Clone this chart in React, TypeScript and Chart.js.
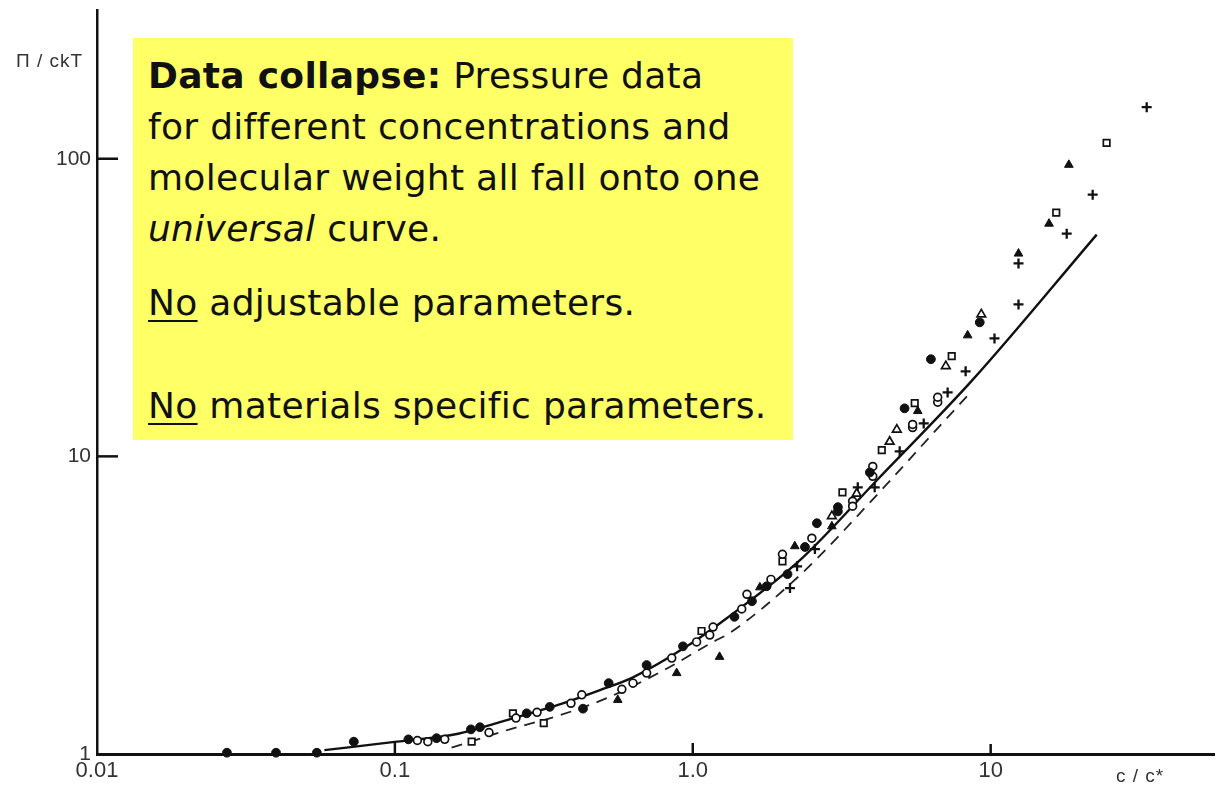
import React, { useEffect, useRef } from "react";
import { Chart, registerables } from "chart.js";
Chart.register(...registerables);

// ---- axis ticks ----
const xTickValues = [0.01, 0.1, 1, 10];
const xTickLabels = ["0.01", "0.1", "1.0", "10"];
const yTickValues = [1, 10, 100];
const yTickLabels = ["1", "10", "100"];

// ---- data series: [c/c*, Π/ckT] ----
const filledCircles: [number, number][] = [
  [0.0273, 1.01], [0.0399, 1.01], [0.0547, 1.01], [0.0728, 1.1], [0.111, 1.12],
  [0.138, 1.13], [0.18, 1.21], [0.193, 1.23], [0.277, 1.37], [0.331, 1.44],
  [0.428, 1.42], [0.522, 1.73], [0.7, 1.99], [0.927, 2.3], [1.38, 2.89],
  [1.58, 3.26], [1.77, 3.66], [2.08, 4.02], [2.38, 4.96], [2.61, 5.96],
  [3.07, 6.75], [3.07, 6.53], [3.93, 8.83], [5.14, 14.5], [6.3, 21.2], [9.19, 28.2],
];
const openCircles: [number, number][] = [
  [0.119, 1.11], [0.129, 1.1], [0.147, 1.12], [0.207, 1.18], [0.255, 1.32],
  [0.3, 1.38], [0.39, 1.48], [0.424, 1.58], [0.578, 1.65], [0.63, 1.73],
  [0.7, 1.87], [0.85, 2.1], [1.03, 2.38], [1.14, 2.51], [1.17, 2.67],
  [1.46, 3.07], [1.52, 3.44], [1.83, 3.86], [2.0, 4.69], [2.51, 5.31],
  [3.44, 7.07], [3.44, 6.8], [4.02, 9.25], [4.02, 8.57], [5.47, 12.5],
  [5.47, 12.8], [6.64, 15.2], [6.64, 15.8],
];
const openSquares: [number, number][] = [
  [0.181, 1.1], [0.249, 1.37], [0.316, 1.27], [1.07, 2.59], [2.0, 4.44],
  [3.18, 7.57], [4.31, 10.5], [5.56, 15.1], [7.4, 21.7], [16.6, 65.9], [24.5, 113],
];
const openTriangles: [number, number][] = [
  [2.93, 6.3], [3.55, 7.5], [4.58, 11.2], [4.84, 12.3], [7.07, 20.1], [9.3, 30],
];
const filledTriangles: [number, number][] = [
  [0.56, 1.52], [0.883, 1.87], [1.23, 2.12], [1.68, 3.63], [2.2, 4.99],
  [2.93, 5.82], [5.69, 14.2], [8.37, 25.5], [12.4, 48], [15.7, 60.5], [18.3, 95.4],
];
const crosses: [number, number][] = [
  [2.12, 3.61], [2.24, 4.27], [2.57, 4.88], [3.58, 7.87], [4.08, 7.87],
  [4.95, 10.4], [5.96, 12.9], [7.17, 16.4], [8.24, 19.3], [10.3, 24.9],
  [12.4, 32.4], [12.4, 44.5], [18.0, 56], [22.0, 75.7], [33.4, 149],
];
const solidCurve: [number, number][] = [
  [0.058, 1.03], [0.1015, 1.1], [0.163, 1.17], [0.225, 1.28], [0.366, 1.48],
  [0.488, 1.64], [0.63, 1.81], [0.955, 2.3], [1.3, 2.86], [2.29, 4.48],
  [4.18, 8.38], [8.71, 18.1], [22.7, 55.6],
];
const dashedCurve: [number, number][] = [
  [0.155, 1.05], [0.243, 1.21], [0.358, 1.35], [0.514, 1.54], [0.775, 1.88],
  [1.17, 2.38], [1.33, 2.55], [2.29, 3.99], [4.14, 7.4], [6.38, 11.9], [8.6, 16.5],
];

const toXY = (arr: [number, number][]) => arr.map(([x, y]) => ({ x, y }));

const inwardTicks = {
  id: "inwardTicks",
  afterDraw(chart: any) {
    const { ctx, scales } = chart;
    const xs = scales.x;
    const ys = scales.y;
    ctx.save();
    ctx.strokeStyle = "#111";
    ctx.lineWidth = 2.5;
    [10, 100].forEach((v) => {
      const py = ys.getPixelForValue(v);
      ctx.beginPath();
      ctx.moveTo(xs.left, py);
      ctx.lineTo(xs.left + 21, py);
      ctx.stroke();
    });
    const xLen: Record<string, number> = { "0.1": 12, "1": 11, "10": 10 };
    [0.1, 1, 10].forEach((v) => {
      const px = xs.getPixelForValue(v);
      ctx.beginPath();
      ctx.moveTo(px, ys.bottom);
      ctx.lineTo(px, ys.bottom - xLen[String(v)]);
      ctx.stroke();
    });
    ctx.restore();
  },
};

export default function App() {
  const canvasRef = useRef<HTMLCanvasElement | null>(null);

  useEffect(() => {
    if (!canvasRef.current) return;
    const markerBase = {
      showLine: false,
      borderColor: "#111",
      clip: false as any,
    };
    const chart = new Chart(canvasRef.current, {
      type: "scatter",
      data: {
        datasets: [
          { ...markerBase, label: "filled circles", data: toXY(filledCircles), pointStyle: "circle", pointRadius: 4.4, backgroundColor: "#111", borderWidth: 1 },
          { ...markerBase, label: "open circles", data: toXY(openCircles), pointStyle: "circle", pointRadius: 3.9, backgroundColor: "#fff", borderWidth: 1.7 },
          { ...markerBase, label: "open squares", data: toXY(openSquares), pointStyle: "rect", pointRadius: 4.6, backgroundColor: "#fff", borderWidth: 1.7 },
          { ...markerBase, label: "open triangles", data: toXY(openTriangles), pointStyle: "triangle", pointRadius: 5, backgroundColor: "#fff", borderWidth: 1.7 },
          { ...markerBase, label: "filled triangles", data: toXY(filledTriangles), pointStyle: "triangle", pointRadius: 5, backgroundColor: "#111", borderWidth: 1 },
          { ...markerBase, label: "crosses", data: toXY(crosses), pointStyle: "cross", pointRadius: 5, backgroundColor: "#111", borderWidth: 2.3 },
          { label: "solid", data: toXY(solidCurve), showLine: true, pointRadius: 0, borderColor: "#111", borderWidth: 2.4, cubicInterpolationMode: "monotone" as any },
          { label: "dashed", data: toXY(dashedCurve), showLine: true, pointRadius: 0, borderColor: "#222", borderWidth: 1.8, borderDash: [11, 8], cubicInterpolationMode: "monotone" as any },
        ],
      },
      options: {
        animation: false,
        responsive: true,
        maintainAspectRatio: false,
        layout: { padding: { left: 0, right: 7, top: 10, bottom: 0 } },
        plugins: { legend: { display: false }, tooltip: { enabled: false } },
        scales: {
          x: {
            type: "logarithmic",
            min: 0.01,
            max: 56.5,
            afterFit: (s: any) => { s.height = 31; s.paddingLeft = 0; s.paddingRight = 0; },
            afterBuildTicks: (s: any) => { s.ticks = xTickValues.map((v) => ({ value: v })); },
            ticks: {
              autoSkip: false,
              maxRotation: 0,
              padding: 4,
              color: "#333",
              font: { family: "Liberation Sans, Arial, sans-serif", size: 22 },
              callback: (v: any) => { const i = xTickValues.indexOf(Number(v)); return i >= 0 ? xTickLabels[i] : ""; },
            },
            grid: { display: false, drawTicks: false },
            border: { display: true, color: "#111", width: 3 },
          },
          y: {
            type: "logarithmic",
            min: 1,
            max: 316,
            afterFit: (s: any) => { s.width = 97; s.paddingTop = 0; s.paddingBottom = 0; },
            afterBuildTicks: (s: any) => { s.ticks = yTickValues.map((v) => ({ value: v })); },
            ticks: {
              autoSkip: false,
              padding: 6,
              color: "#333",
              font: { family: "Liberation Sans, Arial, sans-serif", size: 21 },
              callback: (v: any) => { const i = yTickValues.indexOf(Number(v)); return i >= 0 ? yTickLabels[i] : ""; },
            },
            grid: { display: false, drawTicks: false },
            border: { display: true, color: "#111", width: 2.5 },
          },
        },
      },
      plugins: [inwardTicks],
    });
    return () => chart.destroy();
  }, []);

  const boxFont = "'DejaVu Sans', Verdana, Tahoma, sans-serif";
  const line = (top: number, content: React.ReactNode) => (
    <div style={{ position: "absolute", left: 15, top, whiteSpace: "nowrap", lineHeight: "51px", height: 51 }}>{content}</div>
  );
  const u = (t: string) => (
    <span style={{ textDecoration: "underline", textDecorationThickness: "2px", textUnderlineOffset: "5px" }}>{t}</span>
  );

  return (
    <div style={{ position: "absolute", left: 0, top: 0, width: 1222, height: 785, background: "#fff" }}>
      <canvas ref={canvasRef} />
      <div style={{ position: "absolute", left: 16, top: 50, fontFamily: "Liberation Sans, Arial, sans-serif", fontSize: 19, color: "#333", letterSpacing: "1px" }}>Π / ckT</div>
      <div style={{ position: "absolute", left: 1116, top: 765, fontFamily: "Liberation Sans, Arial, sans-serif", fontSize: 19, color: "#333", letterSpacing: "1px" }}>c / c*</div>
      <div style={{ position: "absolute", left: 133, top: 38, width: 660, height: 402, background: "#ffff66", fontFamily: boxFont, fontSize: 36, letterSpacing: "0.3px", color: "#111" }}>
        {line(11.5, <><b>Data collapse:</b> Pressure data</>)}
        {line(62.5, <>for different concentrations and</>)}
        {line(113.5, <>molecular weight all fall onto one</>)}
        {line(164.5, <><i>universal</i> curve.</>)}
        {line(239, <>{u("No")} adjustable parameters.</>)}
        {line(342, <>{u("No")} materials specific parameters.</>)}
      </div>
    </div>
  );
}
